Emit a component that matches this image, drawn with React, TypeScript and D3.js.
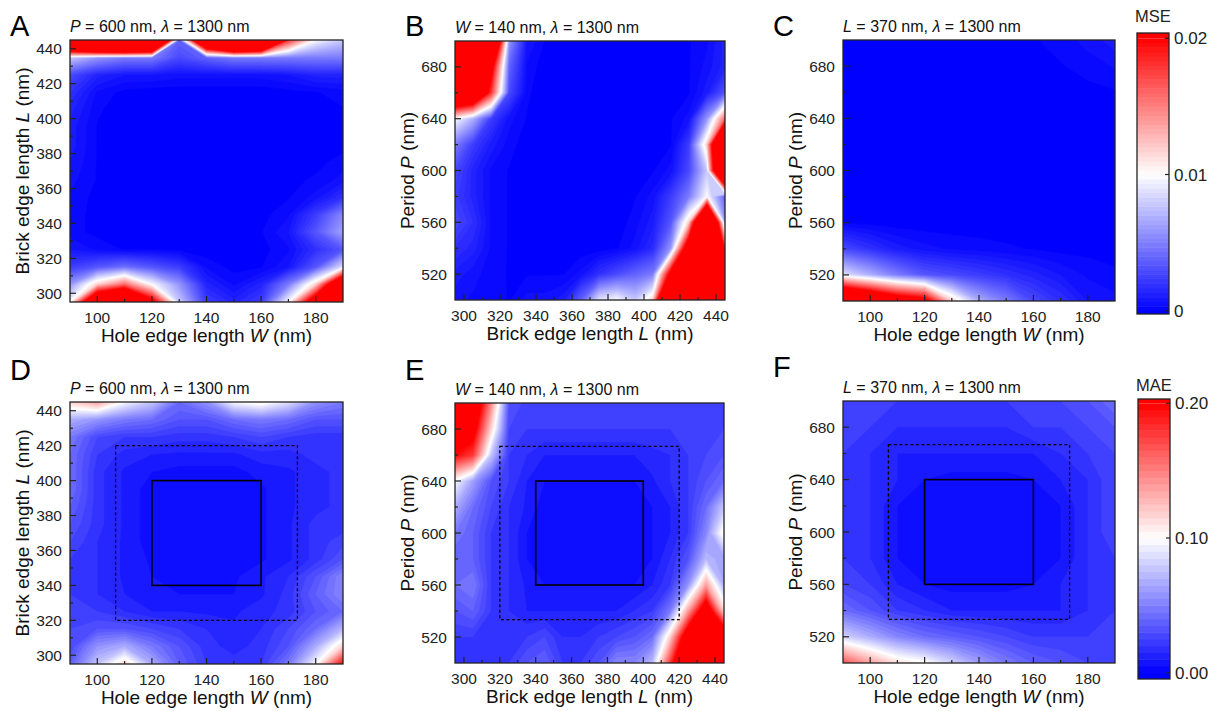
import React, { useEffect, useRef } from "react";
import * as d3 from "d3";

const FONT = "'Liberation Sans', Arial, Helvetica, sans-serif";

// sweep coordinates (grid nodes)
const holeW = [90, 100, 110, 120, 130, 140, 150, 160, 170, 180, 190];
const brickL = [295, 305, 315, 325, 335, 345, 355, 365, 375, 385, 395, 405, 415, 425, 435, 445];
const periodP = [500, 520, 540, 560, 580, 600, 620, 640, 660, 680, 700];

// error maps, rows are listed from the top of the plot down
// MSE in units of 1e-3
const mseA = [
  [40, 50, 55, 50, 4, 35, 50, 45, 18, 10, 8],
  [8, 6, 5, 5, 3, 4, 5, 5, 5, 5, 5],
  [3, 1.5, 1, 1, 0.8, 0.8, 0.8, 0.8, 1, 1.5, 1.5],
  [2, 0.6, 0.2, 0.1, 0.1, 0.1, 0.1, 0.1, 0.2, 0.3, 0.5],
  [1.5, 0.4, 0.1, 0.1, 0.1, 0.1, 0.1, 0.1, 0.1, 0.2, 0.3],
  [1.2, 0.3, 0.1, 0.1, 0.1, 0.1, 0.1, 0.1, 0.1, 0.1, 0.2],
  [1.2, 0.3, 0.1, 0.1, 0.1, 0.1, 0.1, 0.1, 0.1, 0.1, 0.2],
  [1, 0.3, 0.1, 0.1, 0.1, 0.1, 0.1, 0.1, 0.1, 0.2, 0.5],
  [0.8, 0.3, 0.1, 0.1, 0.1, 0.1, 0.1, 0.1, 0.2, 0.4, 0.8],
  [0.6, 0.2, 0.1, 0.1, 0.1, 0.1, 0.1, 0.1, 0.3, 0.8, 2],
  [0.5, 0.2, 0.1, 0.1, 0.1, 0.1, 0.1, 0.2, 0.6, 2.5, 5.5],
  [0.5, 0.2, 0.1, 0.1, 0.1, 0.1, 0.1, 0.3, 1, 3.5, 6.5],
  [1, 0.6, 0.3, 0.3, 0.2, 0.1, 0.1, 0.2, 0.6, 2, 3.5],
  [2.5, 3.5, 4.5, 3.5, 2.5, 0.6, 0.2, 0.3, 1, 3.5, 9],
  [6, 12, 16, 10, 6, 1.5, 0.6, 1.5, 5, 12, 30],
  [10, 30, 35, 22, 8, 2.5, 1.5, 2.5, 10, 25, 50],
];
const mseB = [
  [50, 50, 35, 6, 1, 0.3, 0.1, 0.1, 0.1, 0.1, 0.1, 0.1, 0.2, 0.3, 0.6, 1.5],
  [50, 35, 22, 4, 0.6, 0.1, 0.1, 0.1, 0.1, 0.1, 0.1, 0.1, 0.1, 0.3, 0.8, 1.5],
  [32, 30, 18, 3, 0.4, 0.1, 0.1, 0.1, 0.1, 0.1, 0.1, 0.1, 0.1, 0.3, 1.2, 3.5],
  [10, 7, 2.5, 0.8, 0.3, 0.1, 0.1, 0.1, 0.1, 0.1, 0.1, 0.1, 0.3, 0.8, 6, 16],
  [5, 2.5, 1.2, 0.5, 0.1, 0.1, 0.1, 0.1, 0.1, 0.1, 0.1, 0.1, 0.3, 2.5, 12, 40],
  [3, 1.5, 0.6, 0.3, 0.1, 0.1, 0.1, 0.1, 0.1, 0.1, 0.1, 0.3, 0.8, 3, 8, 40],
  [2.5, 1.5, 0.6, 0.3, 0.1, 0.1, 0.1, 0.1, 0.1, 0.1, 0.3, 0.8, 2.5, 5, 10, 4],
  [3, 2, 0.6, 0.3, 0.1, 0.1, 0.1, 0.1, 0.1, 0.1, 0.5, 1.2, 3.5, 12, 40, 6],
  [2, 1.5, 0.6, 0.3, 0.1, 0.1, 0.1, 0.1, 0.1, 0.3, 0.8, 1.8, 6, 25, 50, 18],
  [1.2, 0.8, 0.5, 0.3, 0.3, 0.3, 0.3, 0.8, 2, 3, 4, 5, 22, 50, 50, 50],
  [0.8, 0.6, 0.6, 0.3, 0.8, 0.8, 1.2, 4, 9, 10, 8, 12, 40, 50, 50, 50],
];
const mseC = [
  [0.1, 0.1, 0.1, 0.1, 0.1, 0.1, 0.2, 0.3, 0.5, 0.8, 1.2],
  [0.1, 0.1, 0.1, 0.1, 0.1, 0.1, 0.1, 0.2, 0.3, 0.5, 0.7],
  [0.1, 0.1, 0.1, 0.1, 0.1, 0.1, 0.1, 0.1, 0.1, 0.2, 0.3],
  [0.1, 0.1, 0.1, 0.1, 0.1, 0.1, 0.1, 0.1, 0.1, 0.1, 0.2],
  [0.1, 0.1, 0.1, 0.1, 0.1, 0.1, 0.1, 0.1, 0.1, 0.1, 0.2],
  [0.1, 0.1, 0.1, 0.1, 0.1, 0.1, 0.1, 0.1, 0.1, 0.1, 0.2],
  [0.1, 0.1, 0.1, 0.1, 0.1, 0.1, 0.1, 0.1, 0.1, 0.1, 0.2],
  [0.3, 0.2, 0.1, 0.1, 0.1, 0.1, 0.1, 0.1, 0.1, 0.1, 0.2],
  [3, 2, 1.2, 0.8, 0.6, 0.5, 0.4, 0.3, 0.2, 0.2, 0.2],
  [9, 7, 5, 3.5, 3, 2.5, 2, 1.5, 1, 0.6, 0.4],
  [32, 28, 24, 22, 12, 7, 5, 3, 2, 1, 0.8],
];
// MAE in units of 1e-2
const maeD = [
  [12, 14, 10, 8, 4.5, 6, 10, 11, 9, 6, 5],
  [7, 6, 5, 4.5, 3.5, 3.5, 4.5, 5, 4.5, 3.5, 3.5],
  [5, 3, 2.5, 2.5, 2.2, 2.2, 2.5, 3, 2.5, 2.2, 2.2],
  [4.5, 2.5, 1.8, 1.5, 1.4, 1.4, 1.4, 1.8, 1.8, 2.2, 2.2],
  [4.5, 2.2, 1.4, 1, 0.8, 0.8, 0.8, 1.2, 1.4, 1.8, 2.2],
  [4.5, 2.2, 1.4, 0.7, 0.5, 0.5, 0.6, 0.9, 1.4, 1.8, 2.2],
  [4, 2.2, 1.4, 0.7, 0.5, 0.5, 0.5, 0.9, 1.4, 1.8, 2.2],
  [3.5, 2.2, 1.4, 0.7, 0.5, 0.5, 0.5, 0.9, 1.4, 2.2, 2.2],
  [3, 2, 1.4, 0.7, 0.5, 0.5, 0.5, 0.9, 1.4, 2.2, 2.8],
  [2.5, 2, 1.4, 0.9, 0.7, 0.7, 0.7, 0.9, 1.4, 2.2, 3.5],
  [2.5, 2, 1.4, 1, 0.8, 0.8, 0.9, 1.4, 2, 3.5, 5.5],
  [2.5, 2, 1.5, 1.2, 1, 1, 1, 1.4, 2.2, 4, 5.5],
  [2.5, 2.5, 2, 1.5, 1.5, 1.4, 1.4, 1.8, 2.2, 3.5, 4.5],
  [3, 3.5, 3.5, 3, 2.5, 2, 1.6, 2, 3, 4.5, 7.5],
  [3, 6, 7, 5, 3.5, 2.2, 1.8, 2.2, 3.5, 7, 12],
  [4, 8, 12, 7, 4, 2.5, 2.2, 2.5, 5, 10, 20],
];
const maeE = [
  [25, 25, 15, 3.5, 2.8, 2.8, 2.8, 2.8, 2.8, 2.8, 2.8, 2.8, 2.8, 2.8, 2.5, 2.5],
  [25, 22, 12, 3, 2.5, 2.5, 2.5, 2.5, 2.5, 2.5, 2.5, 2.5, 2.5, 2.5, 2.5, 3],
  [20, 18, 8, 2.5, 2, 1.5, 1.5, 1.5, 1.5, 1.5, 1.5, 1.8, 2, 2.5, 3, 3.5],
  [10, 6.5, 3.5, 2.5, 1.5, 1, 1, 1, 1, 1, 1, 1.4, 2, 2.5, 3.5, 4.5],
  [7, 4.5, 3, 2, 1.4, 0.7, 0.5, 0.5, 0.5, 0.5, 0.7, 1, 1.5, 2.5, 4.5, 8],
  [5, 4, 2.5, 2, 1, 0.7, 0.5, 0.5, 0.5, 0.5, 0.7, 1, 1.5, 2.5, 5.5, 11],
  [4, 4, 2.5, 2, 1, 0.7, 0.5, 0.5, 0.5, 0.5, 0.7, 1, 2, 3.5, 7.5, 6.5],
  [4.5, 5, 2.5, 2, 1.4, 1, 1, 1, 1, 1, 1, 1.5, 2.5, 6, 14, 7],
  [3.5, 4, 2.5, 2, 1.5, 1.5, 1.5, 1.5, 1.5, 1.5, 2, 2.5, 5, 14, 24, 12],
  [2.5, 2.5, 2, 2, 2.5, 3, 2, 2, 2.5, 3, 3.5, 4.5, 12, 24, 30, 25],
  [2, 2, 2, 2.5, 3.5, 4, 2.5, 2.5, 3.5, 5.5, 5.5, 7.5, 18, 30, 30, 30],
];
const maeF = [
  [2.5, 2.5, 2.5, 2.5, 2.5, 2.5, 2.5, 2.5, 3, 3.5, 4.5],
  [2.5, 2.5, 2, 2, 2, 2, 2, 2.5, 2.5, 3, 3.5],
  [2.5, 2, 1.5, 1.5, 1.5, 1.5, 1.5, 1.5, 2, 2.5, 3],
  [2.5, 2, 1.5, 1, 0.8, 0.8, 0.8, 1, 1.5, 2, 3],
  [2.5, 2, 1, 0.7, 0.5, 0.5, 0.5, 0.7, 1, 2, 3],
  [2.5, 2, 1, 0.7, 0.5, 0.5, 0.5, 0.7, 1, 2, 3],
  [2.5, 2, 1, 0.7, 0.5, 0.5, 0.5, 0.7, 1, 2, 2.5],
  [3, 2.5, 1.5, 1, 0.8, 0.8, 0.8, 1, 1.5, 2, 2.5],
  [4.5, 3.5, 2.5, 2, 1.5, 1.5, 1.5, 1.5, 1.5, 2, 2.5],
  [8.5, 7, 5.5, 4.5, 4, 3.5, 3, 2.5, 2.5, 2.5, 2.5],
  [17, 14, 11.5, 10.5, 8.5, 6.5, 5, 4, 3.5, 3, 3],
];

// training / extended parameter ranges drawn on the MAE maps
const solidW = [120, 160];
const dashedW = [106.7, 173.3];
const solidL = [340, 400];
const dashedL = [320, 420];
const solidP = [560, 640];
const dashedP = [533.3, 666.7];

// axis ticks
const wMajor = [100, 120, 140, 160, 180];
const wMinor = [110, 130, 150, 170];
const lMajor = [300, 320, 340, 360, 380, 400, 420, 440];
const lMinor = [310, 330, 350, 370, 390, 410, 430];
const pMajor = [520, 560, 600, 640, 680];
const pMinor = [540, 580, 620, 660];

const mseTicks = [0, 0.01, 0.02];
const mseTickLabels = ["0", "0.01", "0.02"];
const maeTicks = [0, 0.1, 0.2];
const maeTickLabels = ["0.00", "0.10", "0.20"];

const mseColor = d3.scaleLinear<string>().domain([0, 0.01, 0.02]).range(["#0000ff", "#ffffff", "#ff0000"]).clamp(true);
const maeColor = d3.scaleLinear<string>().domain([0, 0.1, 0.2]).range(["#0000ff", "#ffffff", "#ff0000"]).clamp(true);

const axisW = { ticks: holeW, domain: [90, 190], major: wMajor, minor: wMinor, label: ["Hole edge length ", "W", " (nm)"] };
const axisL = { ticks: brickL, domain: [295, 445], major: lMajor, minor: lMinor, label: ["Brick edge length ", "L", " (nm)"] };
const axisP = { ticks: periodP, domain: [500, 700], major: pMajor, minor: pMinor, label: ["Period ", "P", " (nm)"] };

const panels = [
  { letter: "A", lp: [10, 36], box: [70, 40, 343, 302], xa: axisW, ya: axisL, grid: mseA, unit: 1e-3, kind: "mse", fix: ["P", " = 600 nm, "] },
  { letter: "B", lp: [405, 36], box: [455, 41, 725, 300], xa: axisL, ya: axisP, grid: mseB, unit: 1e-3, kind: "mse", fix: ["W", " = 140 nm, "] },
  { letter: "C", lp: [773, 36], box: [843, 40, 1115, 301], xa: axisW, ya: axisP, grid: mseC, unit: 1e-3, kind: "mse", fix: ["L", " = 370 nm, "] },
  { letter: "D", lp: [10, 380], box: [70, 402, 343, 664], xa: axisW, ya: axisL, grid: maeD, unit: 1e-2, kind: "mae", fix: ["P", " = 600 nm, "], solid: [solidW, solidL], dashed: [dashedW, dashedL] },
  { letter: "E", lp: [405, 380], box: [455, 403, 724, 663], xa: axisL, ya: axisP, grid: maeE, unit: 1e-2, kind: "mae", fix: ["W", " = 140 nm, "], solid: [solidL, solidP], dashed: [dashedL, dashedP] },
  { letter: "F", lp: [773, 377], box: [843, 401, 1115, 663], xa: axisW, ya: axisP, grid: maeF, unit: 1e-2, kind: "mae", fix: ["L", " = 370 nm, "], solid: [solidW, solidP], dashed: [dashedW, dashedP] },
];

const colorbars = [
  { title: "MSE", titleY: 22, box: [1137, 33, 1169, 314], range: [310.7, 38.3], ticks: mseTicks, labels: mseTickLabels, color: mseColor, top: 0.02, levels: 60 },
  { title: "MAE", titleY: 391, box: [1138, 399, 1170, 679], range: [672.7, 403.3], ticks: maeTicks, labels: maeTickLabels, color: maeColor, top: 0.2, levels: 40 },
];

function italicLabel(sel: any, parts: string[]) {
  sel.append("tspan").text(parts[0]);
  sel.append("tspan").attr("font-style", "italic").text(parts[1]);
  sel.append("tspan").text(parts[2]);
}

function drawPanel(svg: any, p: any) {
  const [x0, y0, x1, y1] = p.box;
  const x = d3.scaleLinear().domain(p.xa.domain).range([x0, x1]);
  const y = d3.scaleLinear().domain(p.ya.domain).range([y1, y0]);
  const xs = p.xa.ticks;
  const ys = p.ya.ticks.slice().reverse();
  const nx = xs.length;
  const ny = ys.length;
  const color = p.kind === "mse" ? mseColor : maeColor;
  const top = p.kind === "mse" ? 0.02 : 0.2;
  const levels = p.kind === "mse" ? 60 : 40;

  const values = p.grid.flat().map((v: number) => v * p.unit);
  const thresholds = d3.range(1, levels + 1).map((i) => (i * top) / levels);
  const bands = d3.contours().size([nx, ny]).thresholds(thresholds)(values);

  // grid index -> data value -> pixel
  const xi = d3.scaleLinear().domain([0.5, nx - 0.5]).range([xs[0], xs[nx - 1]]);
  const yi = d3.scaleLinear().domain([0.5, ny - 0.5]).range([ys[0], ys[ny - 1]]);
  const proj = d3.geoTransform({
    point(px: number, py: number) {
      (this as any).stream.point(x(xi(px)), y(yi(py)));
    },
  });
  const path = d3.geoPath(proj);

  const clipId = "clip" + p.letter;
  svg.append("clipPath").attr("id", clipId)
    .append("rect").attr("x", x0).attr("y", y0).attr("width", x1 - x0).attr("height", y1 - y0);

  const g = svg.append("g").attr("clip-path", `url(#${clipId})`);
  g.append("rect").attr("x", x0).attr("y", y0).attr("width", x1 - x0).attr("height", y1 - y0).attr("fill", color(0));
  g.selectAll("path")
    .data(bands)
    .join("path")
    .attr("d", path)
    .attr("fill", (d: any) => color(d.value))
    .attr("stroke", (d: any) => color(d.value))
    .attr("stroke-width", 0.4);

  // parameter windows
  const rect = (r: number[][], dash: string | null, sw: number) => {
    const rr = svg.append("rect")
      .attr("x", x(r[0][0])).attr("y", y(r[1][1]))
      .attr("width", x(r[0][1]) - x(r[0][0])).attr("height", y(r[1][0]) - y(r[1][1]))
      .attr("fill", "none").attr("stroke", "#000").attr("stroke-width", sw);
    if (dash) rr.attr("stroke-dasharray", dash);
  };
  if (p.dashed) rect(p.dashed, "3,2.5", 1.3);
  if (p.solid) rect(p.solid, null, 1.6);

  // frame
  svg.append("rect").attr("x", x0).attr("y", y0).attr("width", x1 - x0).attr("height", y1 - y0)
    .attr("fill", "none").attr("stroke", "#222").attr("stroke-width", 1.3);

  const ax = svg.append("g").attr("stroke", "#222").attr("stroke-width", 1.2);
  p.xa.major.forEach((v: number) => ax.append("line").attr("x1", x(v)).attr("x2", x(v)).attr("y1", y1).attr("y2", y1 - 6));
  p.xa.minor.forEach((v: number) => ax.append("line").attr("x1", x(v)).attr("x2", x(v)).attr("y1", y1).attr("y2", y1 - 3));
  p.ya.major.forEach((v: number) => ax.append("line").attr("x1", x0).attr("x2", x0 + 6).attr("y1", y(v)).attr("y2", y(v)));
  p.ya.minor.forEach((v: number) => ax.append("line").attr("x1", x0).attr("x2", x0 + 3).attr("y1", y(v)).attr("y2", y(v)));

  const tl = svg.append("g").attr("font-family", FONT).attr("font-size", 15.5).attr("fill", "#222");
  p.xa.major.forEach((v: number) =>
    tl.append("text").attr("x", x(v)).attr("y", y1 + 20.5).attr("text-anchor", "middle").text(v));
  p.ya.major.forEach((v: number) =>
    tl.append("text").attr("x", x0 - 8).attr("y", y(v) + 5.5).attr("text-anchor", "end").text(v));

  const xt = svg.append("text").attr("font-family", FONT).attr("font-size", 19).attr("fill", "#111")
    .attr("x", (x0 + x1) / 2).attr("y", y1 + 39.5).attr("text-anchor", "middle");
  italicLabel(xt, p.xa.label);
  const yt = svg.append("text").attr("font-family", FONT).attr("font-size", 19).attr("fill", "#111")
    .attr("text-anchor", "middle")
    .attr("transform", `translate(${x0 - 41},${(y0 + y1) / 2}) rotate(-90)`);
  italicLabel(yt, p.ya.label);

  const st = svg.append("text").attr("font-family", FONT).attr("font-size", 16).attr("fill", "#111")
    .attr("x", x0).attr("y", y0 - 8);
  st.append("tspan").attr("font-style", "italic").text(p.fix[0]);
  st.append("tspan").text(p.fix[1]);
  st.append("tspan").attr("font-style", "italic").text("λ");
  st.append("tspan").text(" = 1300 nm");

  svg.append("text").attr("font-family", FONT).attr("font-size", 29).attr("fill", "#000")
    .attr("x", p.lp[0]).attr("y", p.lp[1]).text(p.letter);
}

function drawColorbar(svg: any, c: any) {
  const [x0, y0, x1, y1] = c.box;
  const s = d3.scaleLinear().domain([0, c.top]).range(c.range);
  const stripes = d3.range(c.levels).map((i) => (i * c.top) / c.levels);
  const g = svg.append("g");
  g.append("rect").attr("x", x0).attr("y", s(0)).attr("width", x1 - x0).attr("height", y1 - s(0)).attr("fill", c.color(0));
  g.append("rect").attr("x", x0).attr("y", y0).attr("width", x1 - x0).attr("height", s(c.top) - y0).attr("fill", c.color(c.top));
  g.selectAll("rect.st").data(stripes).join("rect")
    .attr("x", x0).attr("width", x1 - x0)
    .attr("y", (v: number) => s(v + c.top / c.levels))
    .attr("height", (v: number) => s(v) - s(v + c.top / c.levels) + 0.5)
    .attr("fill", (v: number) => c.color(v + c.top / c.levels / 2));
  g.append("rect").attr("x", x0).attr("y", y0).attr("width", x1 - x0).attr("height", y1 - y0)
    .attr("fill", "none").attr("stroke", "#222").attr("stroke-width", 1.3);
  c.ticks.forEach((v: number, i: number) => {
    g.append("line").attr("x1", x1).attr("x2", x1 - 4).attr("y1", s(v)).attr("y2", s(v)).attr("stroke", "#222").attr("stroke-width", 1.2);
    g.append("text").attr("font-family", FONT).attr("font-size", 17).attr("fill", "#222")
      .attr("x", x1 + 5).attr("y", s(v) + 6).text(c.labels[i]);
  });
  g.append("text").attr("font-family", FONT).attr("font-size", 16.5).attr("fill", "#222")
    .attr("x", (x0 + x1) / 2).attr("y", c.titleY).attr("text-anchor", "middle").text(c.title);
}

export default function App() {
  const ref = useRef<SVGSVGElement>(null);

  useEffect(() => {
    const svg = d3.select(ref.current);
    svg.selectAll("*").remove();
    panels.forEach((p) => drawPanel(svg, p));
    colorbars.forEach((c) => drawColorbar(svg, c));
  }, []);

  return (
    <svg
      ref={ref}
      width={1217}
      height={711}
      style={{ position: "absolute", left: 0, top: 0, background: "#fff", display: "block" }}
    />
  );
}
